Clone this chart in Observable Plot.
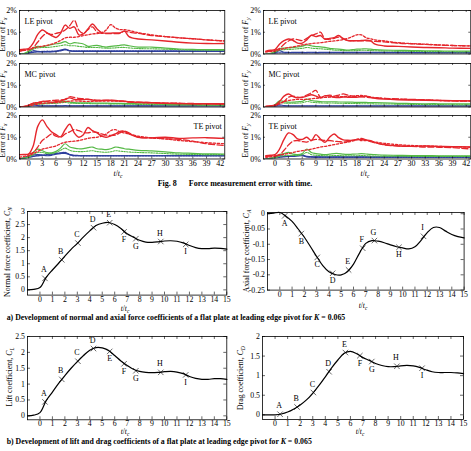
<!DOCTYPE html>
<html>
<head>
<meta charset="utf-8">
<script src="https://cdn.jsdelivr.net/npm/d3@7"></script>
<script src="https://cdn.jsdelivr.net/npm/@observablehq/plot@0.6"></script>
<style>
  html, body { margin: 0; padding: 0; background: #fff; overflow: hidden; }
  #fig { position: relative; width: 471px; height: 451px; overflow: hidden; background: #fff; }
</style>
</head>
<body>
<div id="fig"></div>
<script>
// ---------- Force measurement error (percent) sampled on a shared t/tc grid ----------
const tErr = [-2,-1,0,1,2,3,4,5,6,7, 8,9,10,11,12,13,14,15,16,17, 18,19,20,21,22, 24,27,30,33,36,39,43];
const errXTicks = [0,3,6,9,12,15,18,21,24,27,30,33,36,39,42];
const errYTicks = [0,1,2];

// Fx, LE pivot
const fxLE_r1 = [0.20,0.22,0.25,0.50,0.90,1.10,0.98,0.85,0.76,0.95, 1.33,1.18,1.25,0.88,0.92,1.15,1.38,1.15,0.98,0.96, 0.96,0.97,0.97,1.05,0.80, 0.69,0.65,0.60,0.54,0.50,0.48,0.48];
const fxLE_r2 = [0.13,0.17,0.20,0.30,0.55,0.80,0.95,0.90,0.95,1.00, 1.10,1.30,1.55,1.10,0.95,1.12,1.25,1.00,0.95,0.94, 0.94,0.94,0.95,1.05,1.00, 0.95,0.85,0.80,0.75,0.70,0.65,0.60];
const fxLE_r3 = [0.13,0.17,0.20,0.27,0.32,0.36,0.40,0.45,0.52,0.62, 0.74,0.77,0.77,0.80,0.85,0.88,0.92,0.94,0.98,1.10, 1.35,1.20,1.12,1.12,1.08, 0.98,0.88,0.80,0.74,0.70,0.65,0.60];
const fxLE_g1 = [0,0.02,0.13,0.28,0.35,0.33,0.38,0.43,0.47,0.50, 0.57,0.47,0.52,0.50,0.46,0.35,0.38,0.40,0.35,0.32, 0.35,0.37,0.40,0.42,0.38, 0.32,0.32,0.27,0.23,0.21,0.20,0.20];
const fxLE_g2 = [0,0.02,0.10,0.22,0.28,0.30,0.30,0.32,0.35,0.38, 0.42,0.38,0.38,0.35,0.33,0.30,0.30,0.30,0.28,0.27, 0.27,0.28,0.30,0.30,0.28, 0.25,0.24,0.22,0.20,0.18,0.18,0.17];
const fxLE_b1 = [0,0,0.05,0.15,0.12,0.10,0.10,0.10,0.12,0.18, 0.22,0.15,0.12,0.12,0.12,0.12,0.12,0.12,0.12,0.12, 0.12,0.12,0.12,0.12,0.12, 0.12,0.12,0.12,0.12,0.12,0.12,0.12];
const fxLE_b2 = [0,0,0.03,0.08,0.10,0.11,0.12,0.12,0.13,0.15, 0.20,0.15,0.14,0.14,0.14,0.14,0.14,0.14,0.14,0.14, 0.14,0.14,0.14,0.14,0.14, 0.14,0.14,0.14,0.14,0.14,0.14,0.14];

// Fx, MC pivot
const fxMC_r1 = [0,0.02,0.08,0.18,0.20,0.26,0.25,0.22,0.25,0.28, 0.35,0.42,0.35,0.33,0.34,0.36,0.32,0.28,0.30,0.31, 0.31,0.30,0.28,0.27,0.24, 0.22,0.20,0.17,0.16,0.15,0.15,0.14];
const fxMC_r2 = [0,0.02,0.08,0.17,0.20,0.22,0.27,0.30,0.31,0.32, 0.35,0.47,0.44,0.40,0.38,0.35,0.33,0.32,0.31,0.30, 0.30,0.29,0.27,0.26,0.24, 0.22,0.20,0.18,0.17,0.16,0.15,0.15];
const fxMC_r3 = [0,0.01,0.05,0.10,0.14,0.16,0.18,0.19,0.20,0.22, 0.25,0.27,0.28,0.27,0.26,0.26,0.26,0.27,0.27,0.27, 0.27,0.27,0.26,0.25,0.22, 0.20,0.19,0.17,0.16,0.15,0.15,0.14];
const fxMC_g1 = [0,0,0.05,0.16,0.16,0.17,0.18,0.20,0.22,0.25, 0.27,0.22,0.20,0.19,0.19,0.19,0.18,0.18,0.18,0.18, 0.17,0.17,0.17,0.16,0.16, 0.15,0.14,0.12,0.11,0.11,0.10,0.10];
const fxMC_g2 = [0,0,0.04,0.12,0.13,0.14,0.15,0.16,0.17,0.19, 0.21,0.18,0.17,0.16,0.16,0.16,0.15,0.15,0.15,0.15, 0.14,0.14,0.14,0.13,0.13, 0.12,0.11,0.10,0.09,0.09,0.08,0.08];
const fxMC_b1 = [0,0,0.03,0.12,0.06,0.05,0.05,0.05,0.05,0.05, 0.06,0.05,0.05,0.05,0.05,0.05,0.05,0.05,0.05,0.05, 0.05,0.05,0.05,0.05,0.05, 0.05,0.05,0.05,0.05,0.06,0.06,0.06];
const fxMC_b2 = [0,0,0.02,0.05,0.04,0.03,0.03,0.03,0.03,0.03, 0.04,0.03,0.03,0.03,0.03,0.03,0.03,0.03,0.03,0.03, 0.03,0.03,0.03,0.03,0.03, 0.03,0.03,0.03,0.03,0.03,0.03,0.03];

// Fx, TE pivot
const fxTE_r1 = [0.20,0.21,0.23,0.60,1.50,1.80,1.50,1.25,1.12,1.02, 1.35,1.60,1.20,1.00,1.12,1.45,1.30,1.20,1.05,1.00, 1.07,1.15,1.27,1.27,1.15, 1.00,0.97,1.00,0.95,0.97,0.98,0.95];
const fxTE_r2 = [0.20,0.20,0.22,0.30,0.55,0.85,1.00,1.15,1.05,1.00, 1.15,1.25,1.35,1.30,1.22,1.20,1.25,1.22,1.15,1.10, 1.08,1.10,1.20,1.28,1.20, 1.00,0.97,0.93,0.90,0.82,0.70,0.62];
const fxTE_r3 = [0.08,0.12,0.15,0.25,0.35,0.45,0.50,0.55,0.60,0.70, 0.77,0.80,0.82,0.85,0.90,0.95,0.98,1.00,1.05,1.15, 1.30,1.35,1.25,1.20,1.15, 1.05,0.97,0.92,0.85,0.80,0.75,0.70];
const fxTE_g1 = [0,0.05,0.10,0.30,0.45,0.38,0.30,0.28,0.35,0.50, 0.70,0.55,0.50,0.47,0.48,0.52,0.55,0.47,0.45,0.43, 0.47,0.55,0.52,0.47,0.45, 0.40,0.37,0.33,0.28,0.26,0.24,0.23];
const fxTE_g2 = [0,0.03,0.08,0.20,0.30,0.30,0.25,0.25,0.30,0.40, 0.50,0.40,0.35,0.34,0.34,0.36,0.38,0.34,0.32,0.31, 0.33,0.38,0.36,0.34,0.32, 0.30,0.28,0.25,0.22,0.21,0.20,0.20];
const fxTE_b1 = [0,0.05,0.15,0.18,0.20,0.18,0.15,0.17,0.22,0.25, 0.26,0.20,0.17,0.16,0.15,0.15,0.15,0.15,0.15,0.15, 0.15,0.15,0.15,0.15,0.15, 0.15,0.15,0.15,0.15,0.15,0.15,0.15];
const fxTE_b2 = [0,0.03,0.08,0.12,0.15,0.17,0.20,0.22,0.25,0.28, 0.30,0.20,0.15,0.15,0.15,0.15,0.15,0.15,0.15,0.15, 0.15,0.15,0.15,0.15,0.15, 0.15,0.15,0.15,0.15,0.15,0.15,0.15];

// Fy, LE pivot
const fyLE_r1 = [0.13,0.17,0.20,0.45,0.61,0.69,0.62,0.50,0.50,0.65, 0.86,0.80,0.85,0.68,0.72,0.75,0.85,0.70,0.62,0.61, 0.61,0.62,0.63,0.60,0.45, 0.37,0.35,0.32,0.30,0.29,0.27,0.26];
const fyLE_r2 = [0.10,0.13,0.17,0.25,0.45,0.60,0.69,0.66,0.62,0.72, 0.85,0.92,1.00,0.70,0.68,0.72,0.78,0.72,0.62,0.61, 0.61,0.60,0.60,0.60,0.58, 0.56,0.50,0.47,0.44,0.41,0.39,0.37];
const fyLE_r3 = [0.10,0.11,0.13,0.20,0.25,0.30,0.33,0.37,0.42,0.45, 0.48,0.50,0.52,0.55,0.58,0.60,0.63,0.66,0.72,0.80, 0.88,0.88,0.75,0.70,0.65, 0.60,0.52,0.48,0.45,0.42,0.39,0.37];
const fyLE_g1 = [0,0.02,0.12,0.24,0.27,0.28,0.30,0.32,0.36,0.42, 0.38,0.34,0.33,0.30,0.26,0.24,0.22,0.20,0.18,0.20, 0.22,0.23,0.24,0.22,0.20, 0.18,0.17,0.16,0.15,0.14,0.13,0.13];
const fyLE_g2 = [0,0.02,0.08,0.18,0.20,0.21,0.22,0.24,0.26,0.30, 0.27,0.25,0.24,0.22,0.20,0.18,0.17,0.16,0.15,0.15, 0.16,0.17,0.17,0.16,0.15, 0.14,0.13,0.12,0.11,0.11,0.10,0.10];
const fyLE_b1 = [0,0,0.05,0.15,0.08,0.07,0.07,0.07,0.07,0.07, 0.08,0.07,0.07,0.07,0.07,0.07,0.07,0.07,0.07,0.07, 0.07,0.07,0.07,0.07,0.07, 0.07,0.07,0.07,0.06,0.06,0.06,0.06];
const fyLE_b2 = [0,0,0.02,0.05,0.04,0.04,0.04,0.04,0.04,0.04, 0.05,0.04,0.04,0.04,0.04,0.04,0.04,0.04,0.04,0.04, 0.04,0.04,0.04,0.04,0.04, 0.04,0.04,0.04,0.04,0.04,0.04,0.04];

// Fy, MC pivot
const fyMC_r1 = [0.03,0.05,0.08,0.25,0.50,0.60,0.48,0.42,0.44,0.50, 0.56,0.50,0.42,0.52,0.50,0.45,0.43,0.46,0.45,0.44, 0.45,0.48,0.50,0.45,0.40, 0.36,0.33,0.32,0.31,0.30,0.29,0.28];
const fyMC_r2 = [0.03,0.05,0.08,0.15,0.25,0.45,0.50,0.45,0.45,0.55, 0.65,0.76,0.45,0.50,0.55,0.50,0.55,0.60,0.55,0.50, 0.48,0.47,0.45,0.43,0.42, 0.40,0.37,0.35,0.33,0.30,0.28,0.27];
const fyMC_r3 = [0.02,0.03,0.05,0.15,0.25,0.30,0.33,0.35,0.35,0.35, 0.38,0.40,0.42,0.44,0.45,0.46,0.47,0.48,0.49,0.50, 0.52,0.53,0.50,0.45,0.43, 0.39,0.36,0.34,0.32,0.30,0.29,0.28];
const fyMC_g1 = [0,0.01,0.10,0.28,0.25,0.22,0.22,0.24,0.26,0.36, 0.30,0.27,0.25,0.24,0.24,0.24,0.23,0.23,0.22,0.22, 0.21,0.21,0.21,0.20,0.20, 0.19,0.17,0.16,0.15,0.15,0.14,0.14];
const fyMC_g2 = [0,0.01,0.07,0.20,0.18,0.17,0.17,0.18,0.19,0.25, 0.22,0.20,0.19,0.18,0.18,0.18,0.17,0.17,0.16,0.16, 0.16,0.15,0.15,0.15,0.14, 0.14,0.13,0.12,0.11,0.11,0.10,0.10];
const fyMC_b1 = [0,0,0.03,0.10,0.06,0.05,0.05,0.05,0.05,0.05, 0.05,0.05,0.05,0.05,0.05,0.05,0.05,0.05,0.05,0.05, 0.05,0.05,0.05,0.05,0.05, 0.05,0.05,0.05,0.05,0.05,0.05,0.05];
const fyMC_b2 = [0,0,0.01,0.03,0.02,0.02,0.02,0.02,0.02,0.02, 0.02,0.02,0.02,0.02,0.02,0.02,0.02,0.02,0.02,0.02, 0.02,0.02,0.02,0.02,0.02, 0.02,0.02,0.02,0.02,0.02,0.02,0.02];

// Fy, TE pivot
const fyTE_r1 = [0.15,0.17,0.20,0.45,0.90,1.20,1.12,0.92,0.90,1.00, 0.85,1.12,0.92,0.77,1.00,1.15,0.98,0.88,0.86,0.86, 0.90,0.90,0.87,0.84,0.75, 0.66,0.60,0.58,0.60,0.58,0.57,0.55];
const fyTE_r2 = [0.12,0.13,0.15,0.20,0.40,0.65,0.82,0.85,0.80,0.78, 0.85,0.90,0.88,0.85,0.85,0.82,0.80,0.78,0.80,0.85, 0.90,0.95,0.88,0.80,0.75, 0.65,0.60,0.58,0.55,0.54,0.52,0.46];
const fyTE_r3 = [0.08,0.10,0.12,0.18,0.22,0.25,0.30,0.35,0.38,0.42, 0.45,0.50,0.55,0.58,0.62,0.66,0.70,0.74,0.78,0.82, 0.88,0.85,0.85,0.82,0.78, 0.72,0.66,0.62,0.60,0.58,0.56,0.54];
const fyTE_g1 = [0,0.03,0.10,0.20,0.25,0.30,0.22,0.20,0.25,0.46, 0.30,0.25,0.22,0.20,0.22,0.25,0.25,0.22,0.21,0.22, 0.23,0.25,0.23,0.21,0.20, 0.18,0.17,0.16,0.16,0.15,0.15,0.15];
const fyTE_g2 = [0,0.02,0.05,0.12,0.15,0.17,0.16,0.16,0.20,0.30, 0.20,0.17,0.16,0.15,0.15,0.16,0.16,0.15,0.15,0.15, 0.15,0.16,0.15,0.14,0.14, 0.13,0.13,0.12,0.12,0.12,0.12,0.12];
const fyTE_b1 = [0.01,0.03,0.08,0.15,0.12,0.12,0.12,0.14,0.15,0.12, 0.10,0.10,0.10,0.10,0.10,0.10,0.10,0.10,0.10,0.10, 0.10,0.10,0.10,0.10,0.10, 0.10,0.10,0.10,0.10,0.10,0.10,0.10];
const fyTE_b2 = [0,0.02,0.05,0.08,0.10,0.12,0.14,0.16,0.18,0.10, 0.09,0.08,0.08,0.08,0.08,0.08,0.08,0.08,0.08,0.08, 0.08,0.08,0.08,0.08,0.08, 0.08,0.08,0.08,0.08,0.08,0.08,0.08];

// ---------- Force coefficients of the flat plate (LE pivot, K = 0.065) ----------
const tCoef = [-1,-0.5,0,0.5,1,1.5,2,2.5,3,3.5,4,4.5,5,5.5,6,6.5,7,7.5,8,8.5,9,9.5,10,10.5,11,11.5,12,12.5,13,13.5,14,14.5,15];
const cN = [0,0.02,0.09,0.48,0.76,1.02,1.29,1.55,1.78,2.03,2.26,2.46,2.55,2.58,2.50,2.35,2.15,2.02,1.90,1.83,1.82,1.84,1.87,1.88,1.86,1.80,1.70,1.62,1.58,1.58,1.60,1.59,1.56];
const cA = [0,0.002,0.004,-0.008,-0.025,-0.05,-0.077,-0.108,-0.14,-0.17,-0.19,-0.199,-0.2,-0.19,-0.165,-0.128,-0.097,-0.088,-0.09,-0.095,-0.102,-0.108,-0.112,-0.115,-0.108,-0.087,-0.062,-0.045,-0.045,-0.057,-0.068,-0.075,-0.079];
const cL = [0,0.02,0.10,0.48,0.75,1.02,1.27,1.50,1.71,1.90,2.07,2.15,2.14,2.06,1.90,1.73,1.59,1.47,1.40,1.37,1.36,1.37,1.39,1.40,1.38,1.33,1.24,1.18,1.15,1.15,1.17,1.17,1.15];
const cD = [0,0,0,0.02,0.07,0.15,0.25,0.38,0.55,0.75,0.97,1.20,1.40,1.57,1.62,1.56,1.46,1.39,1.31,1.26,1.23,1.23,1.25,1.26,1.25,1.21,1.15,1.10,1.08,1.08,1.08,1.07,1.05];

// instants A–I marked on every coefficient curve
const markLetters = ["A","B","C","D","E","F","G","H","I"];
const markT = [0.4,1.75,3.05,4.3,5.6,6.75,7.7,9.7,11.7];
const cNMark = [0.44,1.15,1.79,2.38,2.57,2.22,1.96,1.85,1.74];
const cAMark = [-0.007,-0.065,-0.143,-0.195,-0.184,-0.113,-0.088,-0.11,-0.074];
const cLMark = [0.44,1.15,1.72,2.12,2.03,1.64,1.42,1.37,1.29];
const cDMark = [0.015,0.2,0.57,1.1,1.59,1.51,1.36,1.24,1.19];

const coefXTicks = [0,1,2,3,4,5,6,7,8,9,10,11,12,13,14,15];
const cNTicks = [0,0.5,1,1.5,2,2.5,3];
const cATicks = [0,-0.05,-0.1,-0.15,-0.2,-0.25];
const cLTicks = [0,0.5,1,1.5,2,2.5];
const cDTicks = [0,0.5,1,1.5,2];

// ---------- drawing ----------
const fig = document.getElementById("fig");
const SERIF = '"Liberation Serif", "Times New Roman", Times, serif';
const red = "#e5262c", green = "#56b947", blue = "#2e3f9d";

function panel({left, right, top, bottom, xDomain, yDomain, xTicks, yTicks, yFmt, showX, fontSize, tickLen, xPad, marks}) {
  const mL = 36, mR = 4, mT = 4, mB = 16;
  const w = right - left, h = bottom - top;
  const ink = {stroke: "#000", strokeWidth: 0.6};
  const svg = Plot.plot({
    width: w + mL + mR, height: h + mT + mB,
    marginLeft: mL, marginRight: mR, marginTop: mT, marginBottom: mB,
    style: {fontFamily: SERIF, fontSize: fontSize + "px", background: "transparent", color: "#000", overflow: "visible"},
    x: {domain: xDomain, ticks: xTicks, tickFormat: d => String(d), tickSize: 0, tickPadding: xPad, label: null, axis: showX ? "bottom" : null},
    y: {domain: yDomain, ticks: yTicks, tickFormat: yFmt, tickSize: 0, tickPadding: 2.5, label: null},
    marks: [
      ...marks,
      Plot.tickX(xTicks, {x: d => d, insetTop: h - tickLen, ...ink}),
      Plot.tickX(xTicks, {x: d => d, insetBottom: h - tickLen, ...ink}),
      Plot.tickY(yTicks, {y: d => d, insetRight: w - tickLen, ...ink}),
      Plot.tickY(yTicks, {y: d => d, insetLeft: w - tickLen, ...ink}),
      Plot.frame({stroke: "#000", strokeWidth: 0.8})
    ]
  });
  svg.style.position = "absolute";
  svg.style.left = (left - mL) + "px";
  svg.style.top = (top - mT) + "px";
  fig.appendChild(svg);
}

// error panels: three pivots stacked in each of two columns
const errLayers = [
  {key: "b2", stroke: blue,  dash: "1.5,1.2", width: 1.5},
  {key: "b1", stroke: blue,  dash: null,      width: 1.2},
  {key: "g2", stroke: green, dash: "1.5,1.2", width: 1.1},
  {key: "g1", stroke: green, dash: null,      width: 1.2},
  {key: "r3", stroke: red,   dash: "2.2,1.8", width: 1.3},
  {key: "r2", stroke: red,   dash: "6,2.5",   width: 1.3},
  {key: "r1", stroke: red,   dash: null,      width: 1.4}
];
const errRows = [{top: 9.5, bottom: 53}, {top: 62.5, bottom: 106}, {top: 115, bottom: 158.5}];
const errCols = [{left: 19, right: 224.3, domain: [-2, 43]}, {left: 262.7, right: 470, domain: [-2.5, 43]}];
const errPanels = [
  {col: 0, row: 0, title: "LE pivot", anchor: "top-left", s: {r1: fxLE_r1, r2: fxLE_r2, r3: fxLE_r3, g1: fxLE_g1, g2: fxLE_g2, b1: fxLE_b1, b2: fxLE_b2}},
  {col: 0, row: 1, title: "MC pivot", anchor: "top-left", s: {r1: fxMC_r1, r2: fxMC_r2, r3: fxMC_r3, g1: fxMC_g1, g2: fxMC_g2, b1: fxMC_b1, b2: fxMC_b2}},
  {col: 0, row: 2, title: "TE pivot", anchor: "top-right", s: {r1: fxTE_r1, r2: fxTE_r2, r3: fxTE_r3, g1: fxTE_g1, g2: fxTE_g2, b1: fxTE_b1, b2: fxTE_b2}},
  {col: 1, row: 0, title: "LE pivot", anchor: "top-left", s: {r1: fyLE_r1, r2: fyLE_r2, r3: fyLE_r3, g1: fyLE_g1, g2: fyLE_g2, b1: fyLE_b1, b2: fyLE_b2}},
  {col: 1, row: 1, title: "MC pivot", anchor: "top-left", s: {r1: fyMC_r1, r2: fyMC_r2, r3: fyMC_r3, g1: fyMC_g1, g2: fyMC_g2, b1: fyMC_b1, b2: fyMC_b2}},
  {col: 1, row: 2, title: "TE pivot", anchor: "top-left", s: {r1: fyTE_r1, r2: fyTE_r2, r3: fyTE_r3, g1: fyTE_g1, g2: fyTE_g2, b1: fyTE_b1, b2: fyTE_b2}}
];

for (const p of errPanels) {
  const c = errCols[p.col], r = errRows[p.row];
  const lines = errLayers.map(L => Plot.line(tErr.map((t, i) => ({t, v: p.s[L.key][i]})), {
    x: "t", y: "v", stroke: L.stroke, strokeWidth: L.width,
    strokeDasharray: L.dash || undefined, curve: "catmull-rom", clip: true
  }));
  const right = p.anchor === "top-right";
  panel({
    left: c.left, right: c.right, top: r.top, bottom: r.bottom,
    xDomain: c.domain, yDomain: [0, 2], xTicks: errXTicks, yTicks: errYTicks,
    yFmt: d => d + "%", showX: p.row === 2, fontSize: 8, tickLen: 2, xPad: 1.8,
    marks: [
      ...lines,
      Plot.text([p.title], {frameAnchor: p.anchor, text: d => d, dx: right ? -3 : 5, dy: 7.5,
        textAnchor: right ? "end" : "start", fontSize: 8})
    ]
  });
}

// coefficient panels
const coefPanels = [
  {v: cN, m: cNMark, below: "FGI",   left: 26.7,  right: 226,   top: 210.7, bottom: 294.3, y: [-0.2, 3],      ticks: cNTicks},
  {v: cA, m: cAMark, below: "ABCDH", left: 266.7, right: 463.3, top: 211.7, bottom: 289.3, y: [-0.25, 0.004], ticks: cATicks},
  {v: cL, m: cLMark, below: "EFGI",  left: 26.7,  right: 226,   top: 335.7, bottom: 419,   y: [-0.125, 2.5],  ticks: cLTicks},
  {v: cD, m: cDMark, below: "FGI",   left: 261.7, right: 462.7, top: 336,   bottom: 419,   y: [-0.12, 2],     ticks: cDTicks}
];

for (const p of coefPanels) {
  const curve = tCoef.map((t, i) => ({t, v: p.v[i]}));
  const pts = markT.map((t, i) => ({t, v: p.m[i], k: markLetters[i]}));
  const up = pts.filter(d => !p.below.includes(d.k));
  const down = pts.filter(d => p.below.includes(d.k));
  panel({
    left: p.left, right: p.right, top: p.top, bottom: p.bottom,
    xDomain: [-1, 15], yDomain: p.y, xTicks: coefXTicks, yTicks: p.ticks,
    yFmt: d => String(d), showX: true, fontSize: 7.8, tickLen: 3, xPad: 1.0,
    marks: [
      Plot.line(curve, {x: "t", y: "v", stroke: "#000", strokeWidth: 1.2, curve: "catmull-rom"}),
      Plot.dot(pts, {x: "t", y: "v", symbol: "times", r: 2.6, stroke: "#000", strokeWidth: 0.6}),
      Plot.text(up, {x: "t", y: "v", text: "k", dy: -8.5, dx: -1, fontSize: 8}),
      Plot.text(down, {x: "t", y: "v", text: "k", dy: 7.5, fontSize: 8})
    ]
  });
}

// ---------- titles, axis names and captions ----------
const ov = d3.select(fig).append("svg")
  .attr("width", 471).attr("height", 451)
  .style("position", "absolute").style("left", "0px").style("top", "0px")
  .attr("font-family", SERIF).attr("fill", "#000");

function label(x, y, parts, {size = 7.8, rotate = false, anchor = "middle", weight = "normal"} = {}) {
  const t = ov.append("text").attr("x", x).attr("y", y)
    .attr("font-size", size).attr("text-anchor", anchor).attr("font-weight", weight);
  if (rotate) t.attr("transform", `rotate(-90 ${x} ${y})`);
  let low = false;
  for (const [s, f = ""] of parts) {
    const sp = t.append("tspan").text(s);
    if (f.includes("i")) sp.attr("font-style", "italic");
    if (f.includes("s")) { sp.attr("font-size", size * 0.72).attr("dy", size * 0.3); low = true; }
    else if (low) { sp.attr("dy", -size * 0.3); low = false; }
  }
}

const errYCenters = [34.5, 87.5, 140.5];
for (const yc of errYCenters) {
  label(4.5, yc, [["Error of "], ["F", "i"], ["x", "is"]], {rotate: true, size: 7.8});
  label(247.5, yc, [["Error of "], ["F", "i"], ["y", "is"]], {rotate: true, size: 7.8});
}
const tOverTc = [["t", "i"], ["/"], ["t", "i"], ["c", "is"]];
label(118, 175.5, tOverTc, {size: 7.8});
label(365, 175.5, tOverTc, {size: 7.8});
label(235, 185.5, [["Fig. 8\u2003\u2002Force measurement error with time."]], {size: 8, weight: "bold"});

label(9.5, 252, [["Normal force coefficient, "], ["C", "i"], ["N", "is"]], {rotate: true});
label(248.5, 251, [["Axial force coefficient, "], ["C", "i"], ["A", "is"]], {rotate: true});
label(125, 310.5, tOverTc, {size: 7.5});
label(363, 308, tOverTc, {size: 7.5});
label(6.7, 320, [["a) Development of normal and axial force coefficients of a flat plate at leading edge pivot for "], ["K", "i"], [" = 0.065"]], {anchor: "start", weight: "bold", size: 7.8});

label(11.5, 377, [["Lift coefficient, "], ["C", "i"], ["L", "is"]], {rotate: true});
label(243, 378, [["Drag coefficient, "], ["C", "i"], ["D", "is"]], {rotate: true});
label(125, 434, tOverTc, {size: 7.5});
label(360, 434, tOverTc, {size: 7.5});
label(6.7, 444, [["b) Development of lift and drag coefficients of a flat plate at leading edge pivot for "], ["K", "i"], [" = 0.065"]], {anchor: "start", weight: "bold", size: 7.8});
</script>
</body>
</html>
